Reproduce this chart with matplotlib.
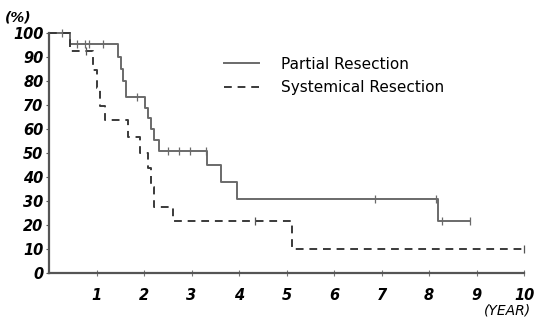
import matplotlib.pyplot as plt

# Kaplan-Meier style step data (years, %)
partial_t = [0, 0.44, 1.45, 1.52, 1.56, 1.62, 2.02, 2.08, 2.15, 2.22, 2.32, 3.32, 3.62, 3.96, 8.19, 8.86]
partial_s = [100, 95.4, 90, 85, 80, 73.5, 69, 64.5, 60, 55.5, 51, 45, 38, 31, 21.5, 21.5]
partial_cens_t = [0.27, 0.59, 0.76, 0.84, 1.14, 1.85, 2.5, 2.74, 2.97, 3.3, 6.86, 8.15, 8.27, 8.86]
partial_cens_s = [100, 95.4, 95.4, 95.4, 95.4, 73.5, 51, 51, 51, 51, 31, 31, 21.5, 21.5]

system_t = [0, 0.44, 0.93, 1.02, 1.07, 1.18, 1.66, 1.92, 2.09, 2.14, 2.2, 2.6, 5.12, 10.0]
system_s = [100, 92.5, 84.6, 77, 69.6, 64, 56.7, 50, 43.6, 36, 27.5, 21.7, 10.2, 10.2]
system_cens_t = [0.78, 4.34, 10.0]
system_cens_s = [92.5, 21.7, 10.2]

yticks = [0, 10, 20, 30, 40, 50, 60, 70, 80, 90, 100]
xticks = [1, 2, 3, 4, 5, 6, 7, 8, 9, 10]

fig = plt.figure(figsize=(5.35, 3.22), dpi=100)
ax = fig.add_axes([0.0916, 0.152, 0.888, 0.745])

ax.plot(partial_t, partial_s, drawstyle="steps-post", color="#6a6a6a", lw=1.4,
        clip_on=False, label="Partial Resection")
ax.plot(system_t, system_s, drawstyle="steps-post", color="#3a3a3a", lw=1.4,
        ls=(0, (4, 3)), clip_on=False, label="Systemical Resection")
ax.plot(partial_cens_t, partial_cens_s, ls="none", marker="|", ms=6, mew=0.9,
        color="#6a6a6a", clip_on=False)
ax.plot(system_cens_t, system_cens_s, ls="none", marker="|", ms=6, mew=0.9,
        color="#555555", clip_on=False)

ax.set_xlim(0, 10)
ax.set_ylim(0, 100)
for s in ["top", "right"]:
    ax.spines[s].set_visible(False)
for s in ["left", "bottom"]:
    ax.spines[s].set_color("#555555")
    ax.spines[s].set_linewidth(1.6)

tick_font = dict(fontsize=10.5, fontweight="bold", fontstyle="italic", family="DejaVu Sans")
ax.set_yticks(yticks)
ax.set_yticklabels([str(v) for v in yticks], **tick_font)
ax.set_xticks(xticks)
ax.set_xticklabels([str(v) for v in xticks], **tick_font)
ax.tick_params(axis="y", direction="out", length=2, width=0.8, color="#555555", pad=2)
ax.tick_params(axis="x", direction="inout", length=5, width=0.8, color="#777777", pad=8)

fig.text(0.01, 0.945, "(%)", fontsize=10, fontstyle="italic", fontweight="bold", va="center")
fig.text(0.993, 0.035, "(YEAR)", fontsize=10, fontstyle="italic", ha="right", va="center")

ax.legend(loc="upper left", bbox_to_anchor=(0.34, 0.96), frameon=False, fontsize=11,
          handlelength=2.3, handletextpad=1.4, labelspacing=0.55)

fig.savefig("out.png", dpi=100)
